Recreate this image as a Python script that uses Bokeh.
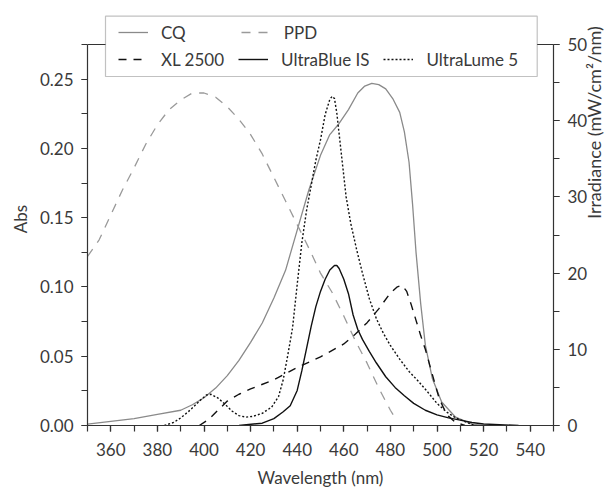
import math
from bokeh.plotting import figure
from bokeh.models import (Range1d, LinearAxis, FixedTicker, Legend, LegendItem, Span,
                          PrintfTickFormatter, BoxAnnotation)
from bokeh.embed import file_html
from bokeh.resources import INLINE

# ---- data ----
cq_nm = [350, 360, 370, 380, 390, 395, 400, 405, 410, 415, 420, 425, 430, 435, 440, 445,
         450, 454, 458, 462, 466, 469, 472, 475, 478, 481, 484, 486, 488, 489.5, 491, 493,
         495, 498, 502, 508, 515, 520]
cq_abs = [0.001, 0.003, 0.005, 0.008, 0.011, 0.015, 0.020, 0.027, 0.036, 0.047, 0.060, 0.074,
          0.092, 0.112, 0.141, 0.170, 0.195, 0.210, 0.218, 0.228, 0.240, 0.245, 0.247, 0.246,
          0.243, 0.236, 0.226, 0.212, 0.190, 0.160, 0.125, 0.088, 0.058, 0.034, 0.017, 0.006,
          0.001, 0.0]

ppd_nm = [350, 355, 360, 365, 370, 375, 380, 385, 390, 395, 400, 405, 410, 415, 420, 425,
          430, 435, 440, 445, 450, 455, 460, 465, 470, 475, 480, 483]
ppd_abs = [0.122, 0.134, 0.152, 0.170, 0.186, 0.203, 0.217, 0.228, 0.235, 0.240, 0.240, 0.237,
           0.230, 0.221, 0.210, 0.196, 0.179, 0.162, 0.145, 0.128, 0.110, 0.096, 0.079, 0.061,
           0.045, 0.027, 0.011, 0.003]

xl_nm = [398, 402, 406, 410, 415, 420, 430, 440, 450, 460, 465, 470, 475, 480, 483, 485, 487,
         489, 491, 493, 495, 497, 499, 501, 503, 505, 508, 512]
xl_irr = [0.0, 0.8, 2.0, 3.2, 4.1, 4.8, 6.0, 7.6, 9.0, 10.7, 12.0, 13.5, 15.3, 17.4, 18.2, 18.4,
          17.6, 15.8, 13.8, 11.8, 10.0, 7.8, 5.6, 3.5, 2.2, 1.2, 0.4, 0.0]

ub_nm = [415, 425, 430, 434, 437, 440, 442, 444, 446, 448, 450, 452, 454, 456, 457, 458, 460,
         462, 464, 466, 468, 471, 474, 478, 482, 486, 490, 495, 500, 505, 510, 515, 520, 535]
ub_irr = [0.0, 0.3, 0.9, 1.8, 2.6, 4.6, 7.2, 10.1, 13.0, 15.6, 17.6, 19.2, 20.4, 21.0, 21.0,
          20.6, 19.2, 17.3, 14.5, 12.6, 11.3, 9.7, 8.2, 6.4, 5.0, 3.9, 2.9, 2.0, 1.4, 1.0, 0.7,
          0.4, 0.2, 0.0]

ul_nm = [383, 387, 390, 394, 398, 401, 403, 406, 409, 412, 415, 418, 421, 425, 429, 432, 434,
         436, 438, 440, 442, 444, 446, 448, 450, 452, 454, 455, 456, 457, 459, 461, 463, 465.5,
         468, 471, 474, 477, 480, 484, 488, 492, 496, 500, 504, 508, 512, 516]
ul_irr = [0.0, 0.4, 1.0, 2.0, 3.2, 4.0, 4.1, 3.6, 2.8, 1.9, 1.3, 1.1, 1.2, 1.6, 2.4, 3.8, 6.0,
          9.3, 12.8, 18.5, 24.0, 28.2, 31.5, 34.8, 37.5, 40.8, 42.8, 43.2, 42.9, 41.0, 35.5,
          30.0, 26.5, 23.1, 20.0, 16.6, 14.0, 12.1, 10.5, 8.7, 7.1, 5.8, 4.4, 2.9, 1.8, 1.0,
          0.5, 0.0]

x_ticks = [360, 380, 400, 420, 440, 460, 480, 500, 520, 540]
x_minor = list(range(350, 551, 10))
abs_ticks = [0.0, 0.05, 0.10, 0.15, 0.20, 0.25]
abs_minor = [i * 0.025 for i in range(12)]
irr_ticks = [0, 10, 20, 30, 40, 50]
irr_minor = list(range(0, 51, 5))

X_MIN, X_MAX = 350, 550
ABS_MAX = 0.275          # top of the boxed plot area (abs axis)
IRR_MAX = 50             # top of the boxed plot area (irradiance axis)

FONT = "Lato"
TXT = "#3a3a3a"
AX = "#333333"

FRAME_W = 466
FRAME_H = 413            # frame reaches up above the legend top
BOX_H = 381              # boxed plot height (axis lines)
scale = FRAME_H / BOX_H
px_x = FRAME_W / (X_MAX - X_MIN)       # pixels per nm
px_y = BOX_H / ABS_MAX                 # pixels per abs unit

p = figure(title=None, frame_width=FRAME_W, frame_height=FRAME_H,
           min_border_left=87, min_border_right=63, min_border_top=12, min_border_bottom=64,
           x_range=Range1d(X_MIN, X_MAX), y_range=Range1d(0, ABS_MAX * scale),
           output_backend="svg", toolbar_location=None)
p.extra_y_ranges = {"irr": Range1d(0, IRR_MAX * scale)}
p.xgrid.visible = False
p.ygrid.visible = False
p.outline_line_color = None
p.background_fill_color = "white"
p.border_fill_color = "white"

# top border of the plot box (passes behind the legend)
p.add_layout(Span(location=ABS_MAX, dimension="width", line_color=AX, line_width=1.2))

r_cq = p.line(cq_nm, cq_abs, line_color="#8a8a8a", line_width=1.3)
r_ppd = p.line(ppd_nm, ppd_abs, line_color="#9a9a9a", line_width=1.3, line_dash="9 8")
r_xl = p.line(xl_nm, xl_irr, line_color="#111111", line_width=1.4, line_dash="8 7",
              y_range_name="irr")
r_ub = p.line(ub_nm, ub_irr, line_color="#111111", line_width=1.4, y_range_name="irr")
r_ul = p.line(ul_nm, ul_irr, line_color="#111111", line_width=1.4, line_dash="2 2",
              y_range_name="irr")

right = LinearAxis(y_range_name="irr", axis_label="Irradiance (mW/cm²/nm)")
p.add_layout(right, "right")

p.xaxis.ticker = FixedTicker(ticks=x_ticks, minor_ticks=x_minor)
p.yaxis[0].ticker = FixedTicker(ticks=abs_ticks, minor_ticks=abs_minor)
p.yaxis[0].formatter = PrintfTickFormatter(format="%.2f")
p.yaxis[0].bounds = (0, ABS_MAX)
right.ticker = FixedTicker(ticks=irr_ticks, minor_ticks=irr_minor)
right.bounds = (0, IRR_MAX)
p.xaxis.axis_label = "Wavelength (nm)"
p.yaxis[0].axis_label = "Abs"

for ax in [p.xaxis[0], p.yaxis[0], right]:
    ax.axis_line_color = AX
    ax.axis_line_width = 1.2
    ax.major_tick_line_color = AX
    ax.minor_tick_line_color = AX
    ax.major_tick_line_width = 1.2
    ax.minor_tick_line_width = 1.2
    ax.major_tick_out = 6
    ax.major_tick_in = 0
    ax.minor_tick_out = 6
    ax.minor_tick_in = 0
    ax.major_label_text_font = FONT
    ax.major_label_text_font_size = "17px"
    ax.major_label_text_color = TXT
    ax.axis_label_text_font = FONT
    ax.axis_label_text_font_size = "17px"
    ax.axis_label_text_font_style = "normal"
    ax.axis_label_text_color = TXT
    ax.major_label_standoff = 8

p.xaxis[0].major_label_standoff = 11
p.xaxis[0].axis_label_standoff = 8
p.yaxis[0].axis_label_standoff = 6
right.axis_label_text_font_size = "18px"
right.axis_label_standoff = 4
try:
    right.axis_label_orientation = math.pi / 2   # read bottom-to-top like the reference
except Exception:
    pass

# ---- legend: a framed box holding two rows ----
BOX_L, BOX_R = 18, 449.7      # box edges, px from frame left
BOX_T, BOX_B = 409.3, 349     # box edges, px above plot bottom
p.add_layout(BoxAnnotation(left=X_MIN + BOX_L / px_x, right=X_MIN + BOX_R / px_x,
                           top=BOX_T / px_y, bottom=BOX_B / px_y,
                           fill_color="white", fill_alpha=1,
                           line_color=AX, line_width=1.2))


def row_legend(items, x, y, spacing):
    lg = Legend(items=items, location=(x, y), orientation="horizontal")
    lg.label_text_font = FONT
    lg.label_text_font_size = "17px"
    lg.label_text_color = TXT
    lg.glyph_width = 30
    lg.glyph_height = 24
    lg.label_height = 24
    lg.label_standoff = 13
    lg.spacing = spacing
    lg.padding = 0
    lg.margin = 0
    lg.border_line_color = None
    lg.background_fill_alpha = 0
    return lg


p.add_layout(row_legend([LegendItem(label="CQ", renderers=[r_cq]),
                         LegendItem(label="PPD", renderers=[r_ppd])], 31, 381, 55), "center")
p.add_layout(row_legend([LegendItem(label="XL 2500", renderers=[r_xl]),
                         LegendItem(label="UltraBlue IS", renderers=[r_ub]),
                         LegendItem(label="UltraLume 5", renderers=[r_ul])], 31, 354, 14),
             "center")

open("out.html", "w").write(file_html(p, INLINE))
